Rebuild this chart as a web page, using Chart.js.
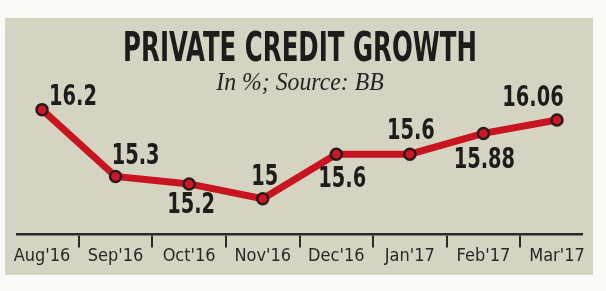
<!DOCTYPE html>
<html>
<head>
<meta charset="utf-8">
<script src="https://cdn.jsdelivr.net/npm/chart.js@4.4.1/dist/chart.umd.min.js"></script>
<style>
    html, body { margin: 0; padding: 0; background: #f9f9f7; }
    .panel {
        position: absolute;
        left: 5px;
        top: 18px;
        width: 588px;
        height: 257px;
        background: #d5d3c1;
    }
</style>
</head>
<body>
<div class="panel">
    <canvas id="creditChart" width="588" height="257"></canvas>
</div>
<script>
const months = ["Aug'16", "Sep'16", "Oct'16", "Nov'16", "Dec'16", "Jan'17", "Feb'17", "Mar'17"];
const growth = [16.2, 15.3, 15.2, 15, 15.6, 15.6, 15.88, 16.06];
const growthText = ["16.2", "15.3", "15.2", "15", "15.6", "15.6", "15.88", "16.06"];

// where each value label sits relative to its point (dx, dy)
const labelOffsets = [[31, -12], [20, -20], [2, 22], [2, -21], [6, 26], [1, -22], [1, 27], [-24, -21]];

const narrow = "'DejaVu Sans Condensed', 'DejaVu Sans', sans-serif";

// draw text squeezed horizontally (the print font is very condensed)
function squeezedText(ctx, text, x, y, sx) {
    ctx.save();
    ctx.translate(x, y);
    ctx.scale(sx, 1);
    ctx.fillText(text, 0, 0);
    ctx.restore();
}

// title + source line on top of the panel
const headline = {
    id: "headline",
    afterDraw(chart, args, opts) {
        const ctx = chart.ctx;
        const cx = chart.width / 2 + 1;
        ctx.save();
        ctx.textAlign = "center";
        ctx.textBaseline = "alphabetic";
        ctx.fillStyle = "#1e1c1b";
        ctx.font = "bold 40px " + narrow;
        squeezedText(ctx, opts.title, cx, 43, 0.68);
        ctx.fillStyle = "#262423";
        ctx.font = "italic 25px 'Liberation Serif', serif";
        squeezedText(ctx, opts.subtitle, cx, 72, 0.95);
        ctx.restore();
    }
};

// value labels next to the points
const valueLabels = {
    id: "valueLabels",
    afterDatasetsDraw(chart) {
        const ctx = chart.ctx;
        const meta = chart.getDatasetMeta(0);
        ctx.save();
        ctx.font = "bold 28px " + narrow;
        ctx.fillStyle = "#1f1d1c";
        ctx.textAlign = "center";
        ctx.textBaseline = "middle";
        meta.data.forEach((pt, i) => {
            const off = labelOffsets[i];
            squeezedText(ctx, growthText[i], pt.x + off[0], pt.y + off[1], 0.77);
        });
        ctx.restore();
    }
};

const ctx = document.getElementById("creditChart").getContext("2d");
const myChart = new Chart(ctx, {
    type: "line",
    data: {
        datasets: [{
            data: growth.map((v, i) => ({ x: i, y: v })),
            borderColor: "#c8141f",
            borderWidth: 7,
            pointRadius: 5.5,
            pointBorderWidth: 2.5,
            pointBackgroundColor: "#d0142a",
            pointBorderColor: "#2a1a1a",
            tension: 0
        }]
    },
    options: {
        responsive: false,
        animation: false,
        layout: {
            padding: { left: 12, right: 11, top: 60, bottom: 10 }
        },
        plugins: {
            legend: { display: false },
            tooltip: { enabled: false },
            headline: {
                title: "PRIVATE CREDIT GROWTH",
                subtitle: "In %; Source: BB"
            }
        },
        scales: {
            x: {
                type: "linear",
                min: -0.34,
                max: 7.34,
                grid: {
                    offset: true,
                    drawOnChartArea: false,
                    drawTicks: true,
                    tickLength: 13,
                    color: "#2b2a28",
                    lineWidth: 2
                },
                border: { display: true, color: "#2b2a28", width: 2.5 },
                ticks: {
                    stepSize: 1,
                    includeBounds: false,
                    autoSkip: false,
                    maxRotation: 0,
                    padding: -2,
                    color: "#2a2826",
                    font: { family: narrow, size: 18 },
                    callback: (value) => months[value]
                }
            },
            y: {
                display: false,
                min: 14.52,
                max: 16.626
            }
        }
    },
    plugins: [headline, valueLabels]
});
</script>
</body>
</html>
